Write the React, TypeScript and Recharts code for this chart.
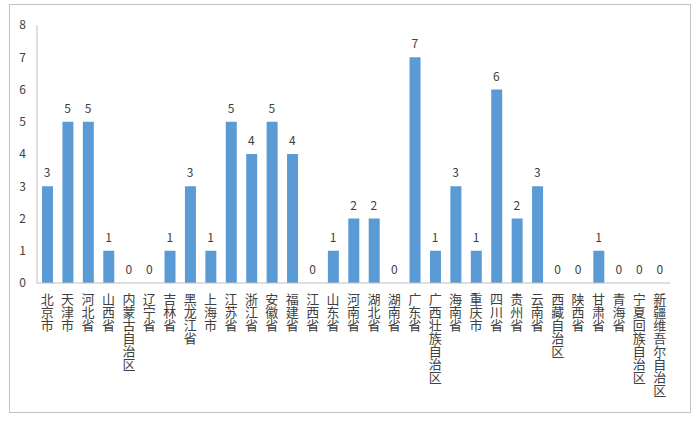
import { ComposedChart, Bar, Line, XAxis, YAxis, LabelList } from 'recharts';

const provinces = [
  '北京市', '天津市', '河北省', '山西省', '内蒙古自治区', '辽宁省', '吉林省', '黑龙江省',
  '上海市', '江苏省', '浙江省', '安徽省', '福建省', '江西省', '山东省', '河南省',
  '湖北省', '湖南省', '广东省', '广西壮族自治区', '海南省', '重庆市', '四川省', '贵州省',
  '云南省', '西藏自治区', '陕西省', '甘肃省', '青海省', '宁夏回族自治区', '新疆维吾尔自治区',
];
const counts = [3, 5, 5, 1, 0, 0, 1, 3, 1, 5, 4, 5, 4, 0, 1, 2, 2, 0, 7, 1, 3, 1, 6, 2, 3, 0, 0, 1, 0, 0, 0];
const yTicks = [0, 1, 2, 3, 4, 5, 6, 7, 8];

const data = provinces.map((name, i) => ({ name, value: counts[i] }));

const FONT = '"Noto Sans CJK SC", "Noto Sans", sans-serif';
const TEXT = '#404040';
const AXIS = '#bfbfbf';

// upright characters stacked top to bottom, like Excel's vertical text
function VerticalTick({ x, y, payload }: any) {
  const chars = String(payload.value).split('');
  return (
    <g>
      {chars.map((c, i) => (
        <text
          key={i}
          x={x}
          y={y + 13 + i * 13}
          textAnchor="middle"
          fontSize={13}
          fontFamily={FONT}
          fill={TEXT}
        >
          {c}
        </text>
      ))}
    </g>
  );
}

export default function App() {
  return (
    <div
      style={{
        position: 'absolute',
        left: 9,
        top: 4,
        width: 680,
        height: 407,
        border: '1px solid #c3c3c3',
        background: '#fff',
      }}
    >
      <ComposedChart
        width={680}
        height={407}
        data={data}
        margin={{ top: 20, right: 20, left: 0, bottom: 0 }}
      >
        <XAxis
          dataKey="name"
          interval={0}
          tick={<VerticalTick />}
          tickLine={false}
          axisLine={{ stroke: AXIS }}
          height={129}
        />
        <YAxis
          domain={[0, 8]}
          ticks={yTicks}
          width={27}
          tickLine={false}
          axisLine={{ stroke: AXIS }}
          tick={{ fill: TEXT, fontSize: 12, fontFamily: FONT }}
          tickMargin={5}
        />
        <Bar dataKey="value" fill="#5b9bd5" barSize={11} isAnimationActive={false} />
        <Line
          dataKey="value"
          stroke="none"
          dot={false}
          activeDot={false}
          isAnimationActive={false}
        >
          <LabelList
            dataKey="value"
            position="top"
            offset={9}
            fill={TEXT}
            fontSize={12}
            fontFamily={FONT}
          />
        </Line>
      </ComposedChart>
    </div>
  );
}
